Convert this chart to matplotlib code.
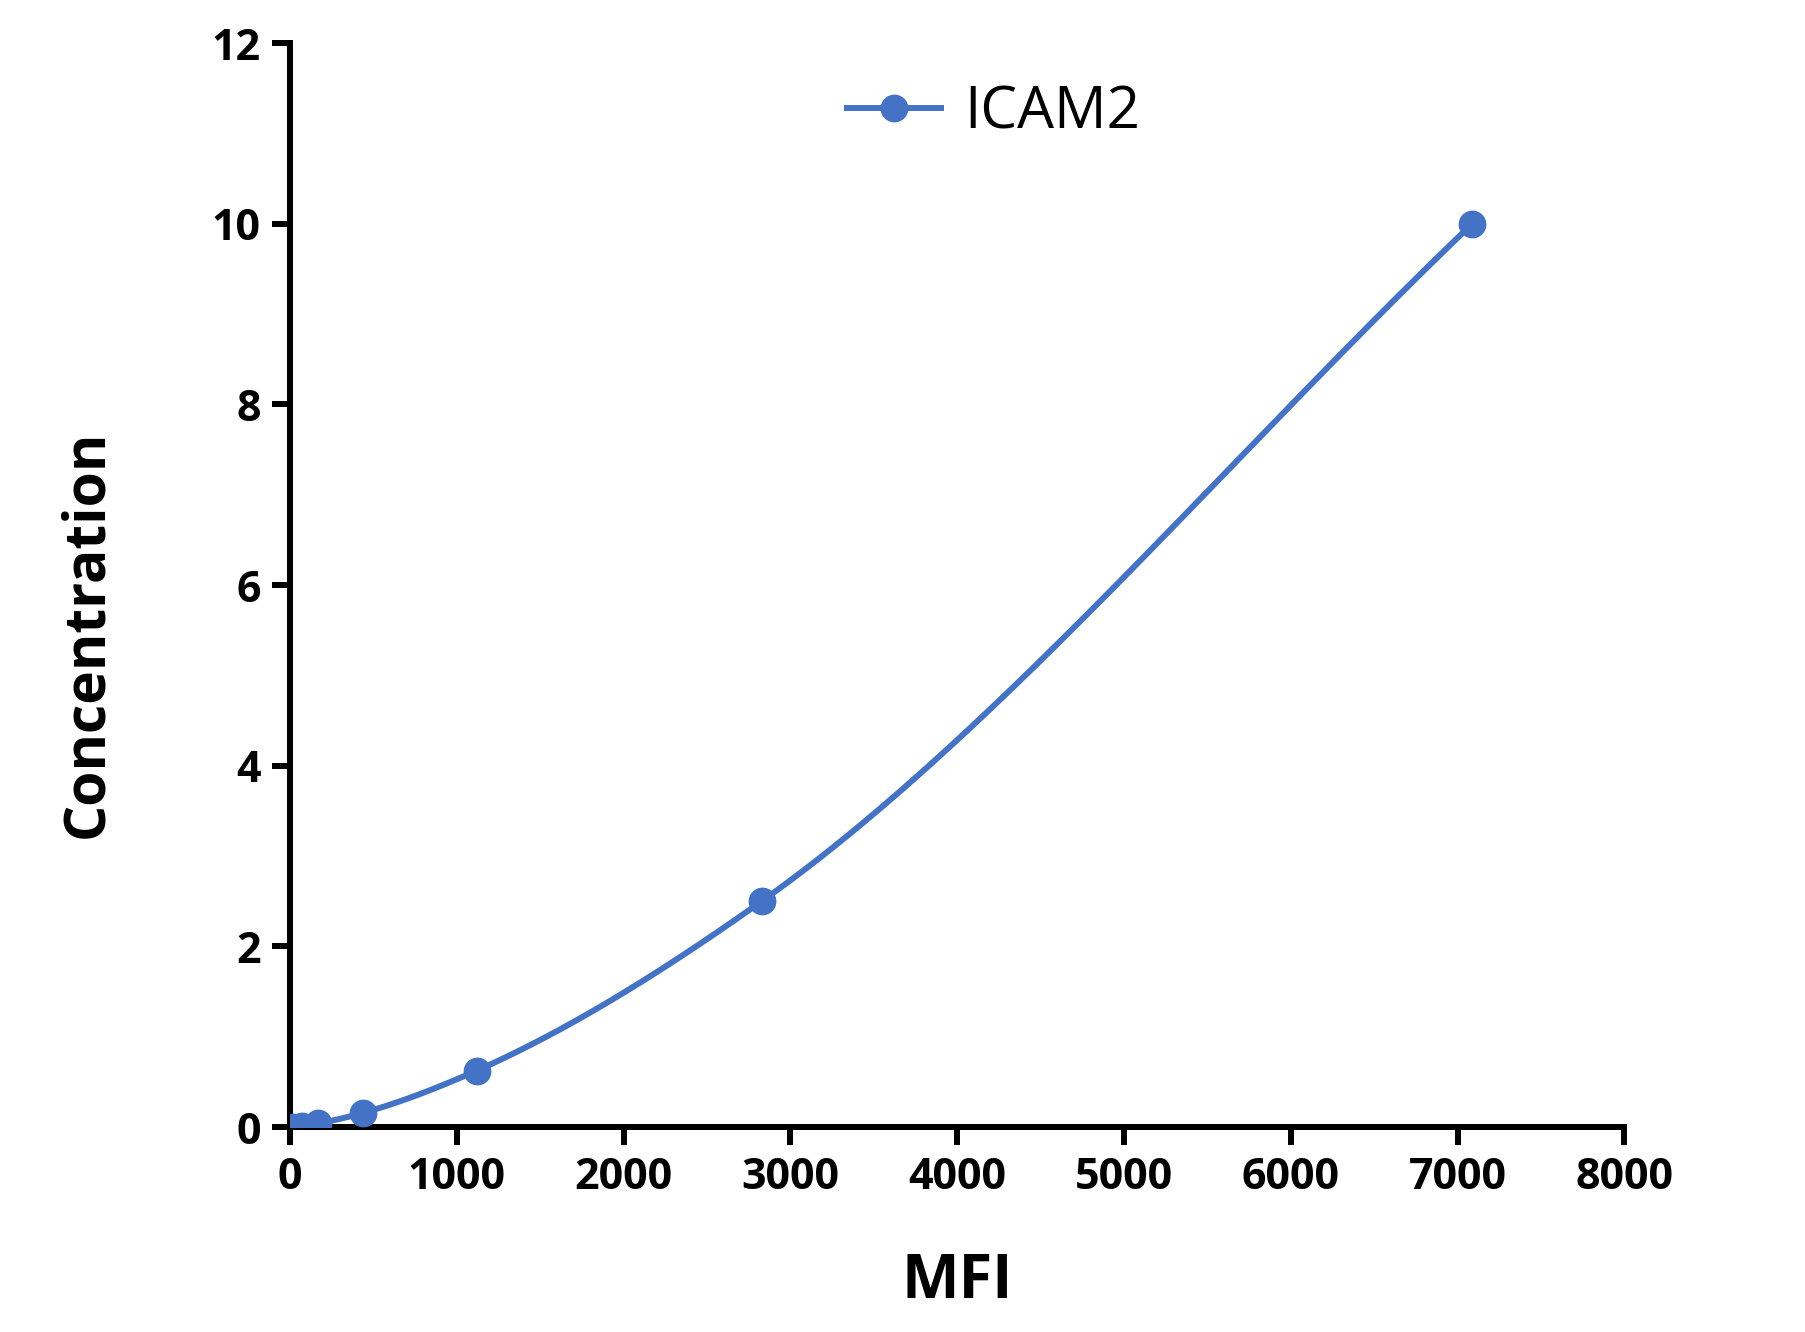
import numpy as np
import matplotlib
matplotlib.use("Agg")
import matplotlib.pyplot as plt

# standard curve, ICAM2
mfi = [20, 72, 168, 437, 1120, 2828, 7088]
conc = [0.0, 0.0098, 0.039, 0.156, 0.625, 2.5, 10.0]
series_name = "ICAM2"
x_ticks = [0, 1000, 2000, 3000, 4000, 5000, 6000, 7000, 8000]
y_ticks = [0, 2, 4, 6, 8, 10, 12]

blue = "#4472C4"


def pchip(x, y, xs):
    # monotone cubic through the points, only for the drawn connecting line
    x = np.asarray(x, float)
    y = np.asarray(y, float)
    h = np.diff(x)
    d = np.diff(y) / h
    m = np.zeros_like(y)
    for k in range(1, len(x) - 1):
        if d[k - 1] * d[k] > 0:
            w1 = 2 * h[k] + h[k - 1]
            w2 = h[k] + 2 * h[k - 1]
            m[k] = (w1 + w2) / (w1 / d[k - 1] + w2 / d[k])
    m[0] = d[0]
    m[-1] = d[-1]
    out = np.empty_like(xs)
    for i, xv in enumerate(xs):
        k = min(np.searchsorted(x, xv) - 1, len(x) - 2)
        k = max(k, 0)
        t = (xv - x[k]) / h[k]
        h00 = 2 * t**3 - 3 * t**2 + 1
        h10 = t**3 - 2 * t**2 + t
        h01 = -2 * t**3 + 3 * t**2
        h11 = t**3 - t**2
        out[i] = h00 * y[k] + h10 * h[k] * m[k] + h01 * y[k + 1] + h11 * h[k] * m[k + 1]
    return out


plt.rcParams["font.family"] = ["Open Sans", "DejaVu Sans"]

fig = plt.figure(figsize=(18.05, 13.32), dpi=100)
ax = fig.add_axes([0.1607, 0.1539, 0.7393, 0.8138])

xs = np.linspace(mfi[0], mfi[-1], 600)
ax.plot(xs, pchip(mfi, conc, xs), color=blue, lw=4.3, solid_capstyle="round", zorder=2)
ax.plot(mfi, conc, "o", color=blue, ms=19, zorder=3)

# legend handle
ax.plot([], [], "-o", color=blue, lw=4.3, ms=19, label=series_name)
leg = ax.legend(loc="upper left", bbox_to_anchor=(0.387, 1.0), frameon=False,
                fontsize=42, handlelength=1.6, handletextpad=0.4, borderaxespad=0.3)

ax.set_xlim(0, 8000)
ax.set_ylim(0, 12)
ax.set_xticks(x_ticks)
ax.set_yticks(y_ticks)
ax.set_xticklabels([str(v) for v in x_ticks], fontsize=31, fontweight="bold")
ax.set_yticklabels([str(v) for v in y_ticks], fontsize=31, fontweight="bold")

for s in ["top", "right"]:
    ax.spines[s].set_visible(False)
for s in ["left", "bottom"]:
    ax.spines[s].set_linewidth(4.3)
ax.tick_params(direction="out", length=13, width=4.3, pad=8)

ax.set_xlabel("MFI", fontsize=44, fontweight="bold")
ax.set_ylabel("Concentration", fontsize=41, fontweight="bold")
ax.xaxis.set_label_coords(0.5, -0.115)
ax.yaxis.set_label_coords(-0.13, 0.455)

fig.savefig("out.png", dpi=100)
